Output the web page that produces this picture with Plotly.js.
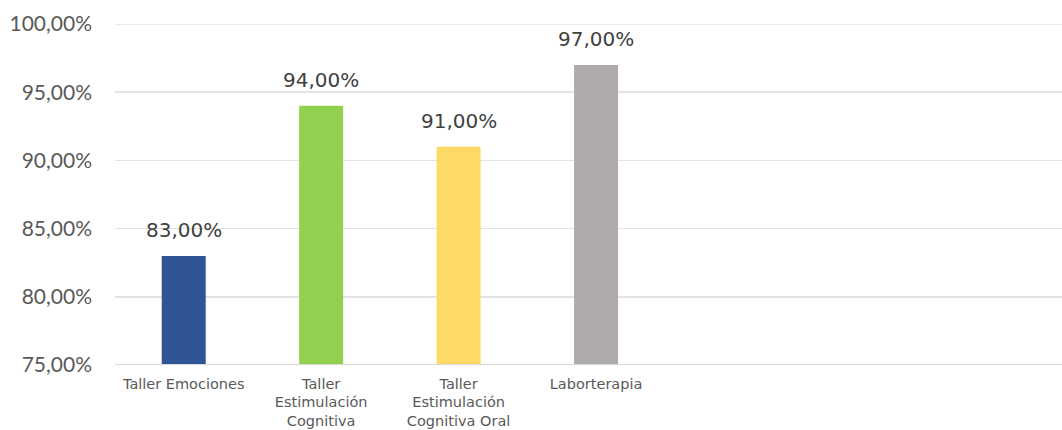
<!DOCTYPE html>
<html>
<head>
<meta charset="utf-8">
<script src="https://cdn.plot.ly/plotly-3.0.1.min.js"></script>
<style>html,body{margin:0;padding:0;background:#fff;}#chart{width:1062px;height:430px;}</style>
</head>
<body>
<div id="chart"></div>
<script>
var categories = ["Taller Emociones", "Taller<br>Estimulación<br>Cognitiva", "Taller<br>Estimulación<br>Cognitiva Oral", "Laborterapia"];
var values = [83, 94, 91, 97];
var labels = ["83,00%", "94,00%", "91,00%", "97,00%"];
var colors = ["#2F5597", "#92D050", "#FFD966", "#AFABAB"];
var yTicks = [75, 80, 85, 90, 95, 100];
var yMin = 75, yMax = 100;

var positions = categories.map(function (c, i) { return i; });

var trace = {
  type: "bar",
  x: positions,
  y: values.map(function (v) { return v - yMin; }),
  base: yMin,
  marker: { color: colors },
  width: 0.32,
  hoverinfo: "none"
};

var annotations = positions.map(function (p, i) {
  return {
    x: p, y: values[i], xref: "x", yref: "y",
    text: labels[i], showarrow: false,
    xanchor: "center", yanchor: "bottom", yshift: 12,
    font: { family: "'DejaVu Sans', sans-serif", size: 20, color: "#404040" }
  };
});

var layout = {
  width: 1062,
  height: 430,
  margin: { l: 115, r: 0, t: 24, b: 65 },
  paper_bgcolor: "#ffffff",
  plot_bgcolor: "#ffffff",
  showlegend: false,
  font: { family: "Lato, 'DejaVu Sans', sans-serif", color: "#595959" },
  xaxis: {
    range: [-0.5, 6.39],
    tickvals: positions,
    ticktext: categories,
    showgrid: false,
    zeroline: false,
    showline: false,
    ticks: "",
    ticklabelstandoff: 8,
    tickfont: { family: "'DejaVu Sans', sans-serif", size: 14.5, color: "#595959" },
    fixedrange: true
  },
  yaxis: {
    range: [yMin, yMax],
    tickvals: yTicks,
    ticktext: yTicks.map(function (t) { return t.toFixed(2).replace(".", ",") + "%"; }),
    showgrid: true,
    gridcolor: "#E3E3E3",
    gridwidth: 1.5,
    zeroline: false,
    showline: false,
    ticks: "",
    ticklabelstandoff: 22,
    tickfont: { family: "Lato, 'DejaVu Sans', sans-serif", size: 21, color: "#595959" },
    fixedrange: true
  },
  annotations: annotations,
  shapes: [{
    type: "line", xref: "paper", yref: "y", x0: 0, x1: 1, y0: yMax, y1: yMax,
    line: { color: "#E3E3E3", width: 1.5 }
  }, {
    type: "line", xref: "paper", yref: "y", x0: 0, x1: 1, y0: yMin, y1: yMin,
    line: { color: "#D9D9D9", width: 2 }
  }]
};

Plotly.newPlot("chart", [trace], layout, { displayModeBar: false, staticPlot: true });
</script>
</body>
</html>
